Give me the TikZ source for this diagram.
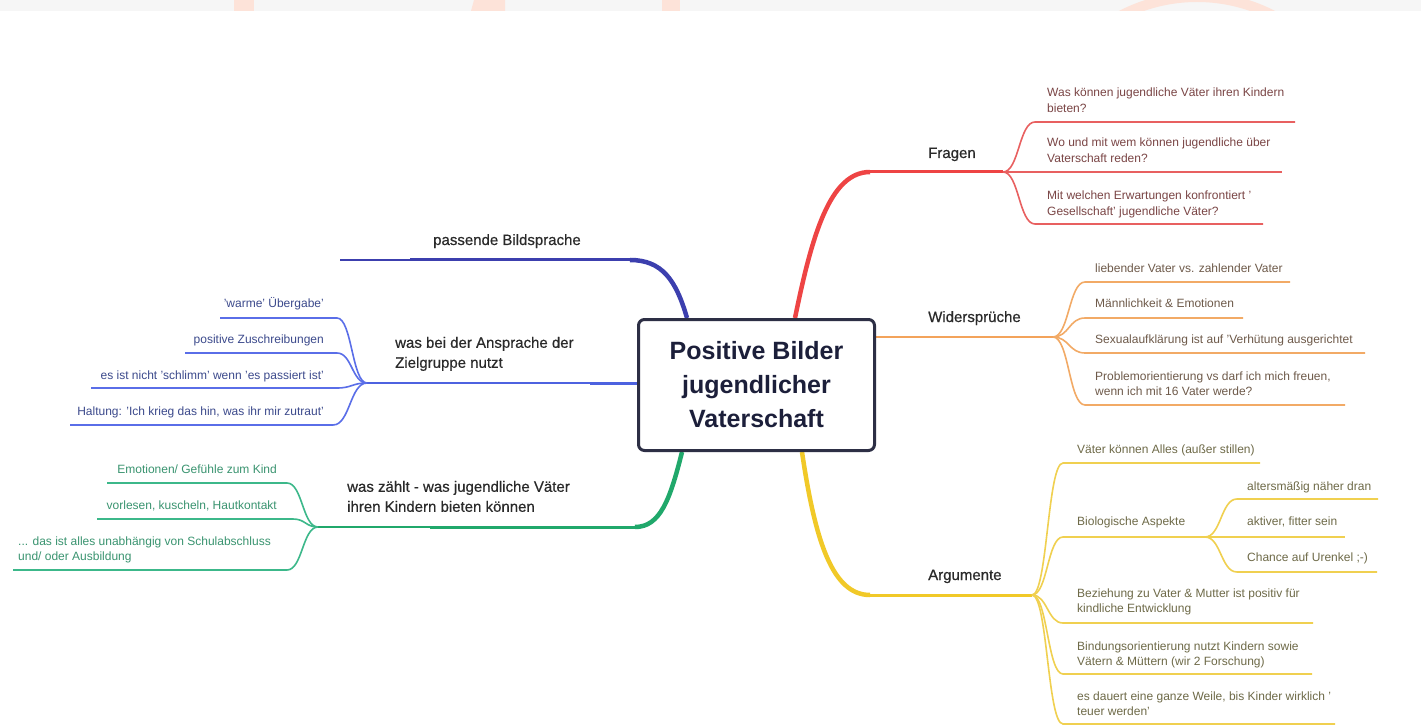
\documentclass[tikz,border=0pt]{standalone}
\usepackage{fontspec}
\setmainfont{Liberation Sans}
\newfontfamily\medfam[FakeBold=0.5]{Liberation Sans}
\usetikzlibrary{calc,backgrounds}
\definecolor{bandc}{HTML}{F6F6F6}
\definecolor{peach}{HTML}{FDE3D9}
\definecolor{boxc}{HTML}{2D2F45}
\definecolor{ctext}{HTML}{1C1F3A}
\definecolor{labc}{HTML}{2A2A2A}
\definecolor{cpass}{HTML}{3C3FAE}
\definecolor{cnutz}{HTML}{4D62E0}
\definecolor{cnutzl}{HTML}{5A6EE8}
\definecolor{tnutz}{HTML}{3C4A8C}
\definecolor{cred}{HTML}{EE4444}
\definecolor{credl}{HTML}{E86060}
\definecolor{tred}{HTML}{7A4545}
\definecolor{corg}{HTML}{F3A35B}
\definecolor{corgl}{HTML}{F2AA66}
\definecolor{torg}{HTML}{6E5A4A}
\definecolor{cyel}{HTML}{F1C928}
\definecolor{cyell}{HTML}{F0D050}
\definecolor{tyel}{HTML}{6E6A48}
\definecolor{cgrn}{HTML}{20A86B}
\definecolor{cgrnl}{HTML}{3CB88A}
\definecolor{tgrn}{HTML}{3A9470}
\newcommand\leaffont{\fontsize{12}{15.5}\selectfont}
\newcommand\labfont{\medfam\fontsize{15}{20}\selectfont}
\newcommand\leafbranch[4]{\draw[#1] (#2) .. controls ($(#2)!0.5!(#3|-#2)$) and ($(#3)!0.5!(#2|-#3)$) .. (#3) -- (#4);}
\tikzset{
  box/.style={draw=boxc, line width=3pt, rounded corners=6pt, fill=white,
    minimum width=236pt, minimum height=131pt, align=center, inner sep=0pt,
    font=\fontsize{25}{34}\selectfont\bfseries, text=ctext},
  lab/.style={font=\labfont, text=labc, inner sep=0pt},
  lab2/.style={lab, align=left, anchor=south west, execute at end node=\strut},
  leaftxt/.style={font=\leaffont, inner sep=0pt, execute at end node=\strut},
  leafL/.style={leaftxt, align=left, anchor=south west},
  leafRa/.style={leaftxt, align=right, anchor=south east},
  lred/.style={draw=credl, line width=1.6pt},
  lorg/.style={draw=corgl, line width=1.6pt},
  lyel/.style={draw=cyell, line width=1.6pt},
  lgrn/.style={draw=cgrnl, line width=1.6pt},
  lblu/.style={draw=cnutzl, line width=1.6pt},
}
\begin{document}
\begin{tikzpicture}[x=1pt,y=-1pt]
\useasboundingbox (0,0) rectangle (1421,727);
\node[box] (C) at (756.5,385) {Positive Bilder\\jugendlicher\\Vaterschaft};
\begin{scope}[on background layer]
\fill[white] (0,0) rectangle (1421,727);
% ---------- coordinates
\coordinate (rB) at ($(C.north west)+(158,0)$);
\coordinate (pB) at ($(C.north west)+(50,0)$);
\coordinate (gB) at ($(C.south west)+(45,0)$);
\coordinate (yB) at ($(C.south west)+(165,0)$);
\coordinate (FJ) at (1003,172);
\coordinate (WJ) at (1053,337);
\coordinate (AJ) at (1032,595);
\coordinate (BJ) at (1205,537);
\coordinate (NJ) at (367,383);
\coordinate (ZJ) at (318,527);
\coordinate (wB) at (C.east |- WJ);
\coordinate (nB) at (C.west |- NJ);
% ---------- main branches
\draw[cred, line width=4.5pt] (rB) .. controls (812,235) and (830,172) .. (870,172) coordinate (rH);
\draw[cred, line width=3pt] (rH) -- (FJ);
\draw[cpass, line width=4.5pt] (pB) .. controls (676,280) and (662,260) .. (630,260) coordinate (pH);
\draw[cpass, line width=3pt] (pH) -- (410,260) coordinate (pM);
\draw[cpass, line width=1.8pt] (pM) -- (340,260) coordinate (pE);
\draw[cgrn, line width=4.5pt] (gB) .. controls (670,500) and (660,527) .. (635,527) coordinate (gH);
\draw[cgrn, line width=3pt] (gH) -- (430,527) coordinate (gM);
\draw[cgrn, line width=2.2pt] (gM) -- (ZJ);
\draw[cyel, line width=4.5pt] (yB) .. controls (815,540) and (832,595) .. (870,595) coordinate (yH);
\draw[cyel, line width=3pt] (yH) -- (AJ);
\draw[corg, line width=2.6pt] (wB) -- (WJ);
\draw[cnutz, line width=3pt] (nB) -- (590,383) coordinate (nM);
\draw[cnutz, line width=2pt] (nM) -- (NJ);
% ---------- red leaves
\coordinate (F1s) at (1035,122); \coordinate (F1e) at (1295,122);
\coordinate (F2e) at (1282,172);
\coordinate (F3s) at (1035,224); \coordinate (F3e) at (1263,224);
\leafbranch{lred}{FJ}{F1s}{F1e}
\draw[lred] (FJ) -- (F2e);
\leafbranch{lred}{FJ}{F3s}{F3e}
% ---------- orange leaves
\coordinate (W1s) at (1085,282); \coordinate (W1e) at (1290,282);
\coordinate (W2s) at (1085,318); \coordinate (W2e) at (1243,318);
\coordinate (W3s) at (1085,353); \coordinate (W3e) at (1365,353);
\coordinate (W4s) at (1085,405); \coordinate (W4e) at (1345,405);
\leafbranch{lorg}{WJ}{W1s}{W1e}
\leafbranch{lorg}{WJ}{W2s}{W2e}
\leafbranch{lorg}{WJ}{W3s}{W3e}
\leafbranch{lorg}{WJ}{W4s}{W4e}
% ---------- yellow leaves
\coordinate (A1s) at (1063,463); \coordinate (A1e) at (1260,463);
\coordinate (A2s) at (1063,537);
\coordinate (A3s) at (1063,623); \coordinate (A3e) at (1313,623);
\coordinate (A4s) at (1063,674); \coordinate (A4e) at (1312,674);
\coordinate (A5s) at (1063,724); \coordinate (A5e) at (1335,724);
\coordinate (B1s) at (1237,499); \coordinate (B1e) at (1378,499);
\coordinate (B2e) at (1345,537);
\coordinate (B3s) at (1237,572); \coordinate (B3e) at (1377,572);
\leafbranch{lyel}{AJ}{A1s}{A1e}
\leafbranch{lyel}{AJ}{A2s}{BJ}
\leafbranch{lyel}{AJ}{A3s}{A3e}
\leafbranch{lyel}{AJ}{A4s}{A4e}
\leafbranch{lyel}{AJ}{A5s}{A5e}
\leafbranch{lyel}{BJ}{B1s}{B1e}
\draw[lyel] (BJ) -- (B2e);
\leafbranch{lyel}{BJ}{B3s}{B3e}
% ---------- blue leaves
\coordinate (N1s) at (337,318); \coordinate (N1e) at (220,318);
\coordinate (N2s) at (337,353); \coordinate (N2e) at (185,353);
\coordinate (N3s) at (337,388); \coordinate (N3e) at (91,388);
\coordinate (N4s) at (333,425); \coordinate (N4e) at (70,425);
\leafbranch{lblu}{NJ}{N1s}{N1e}
\leafbranch{lblu}{NJ}{N2s}{N2e}
\leafbranch{lblu}{NJ}{N3s}{N3e}
\leafbranch{lblu}{NJ}{N4s}{N4e}
% ---------- green leaves
\coordinate (Z1s) at (287,483); \coordinate (Z1e) at (107,483);
\coordinate (Z2s) at (293,519); \coordinate (Z2e) at (97,519);
\coordinate (Z3s) at (287,570); \coordinate (Z3e) at (13,570);
\leafbranch{lgrn}{ZJ}{Z1s}{Z1e}
\leafbranch{lgrn}{ZJ}{Z2s}{Z2e}
\leafbranch{lgrn}{ZJ}{Z3s}{Z3e}
\end{scope}
% ---------- top band
\begin{scope}
\clip (0,0) rectangle (1421,11);
\fill[bandc] (0,0) rectangle (1421,11);
\fill[peach] (234,0) rectangle (254,11);
\fill[peach] (474,0) -- (505,0) -- (505,11) -- (471,11) -- cycle;
\fill[peach] (662,0) rectangle (680,11);
\fill[peach, even odd rule] (1197,162) circle (170pt) (1197,162) circle (160pt);
\end{scope}
% ---------- labels
\node[lab, anchor=base west] (lF) at (928,158) {Fragen};
\node[lab, anchor=base west] (lW) at (928,322) {Widersprüche};
\node[lab, anchor=base west] (lA) at (928,580) {Argumente};
\node[lab, anchor=base] (lP) at (507,245) {passende Bildsprache};
\node[lab2] (lN) at (395,374) {was bei der Ansprache der\\Zielgruppe nutzt};
\node[lab2] (lZ) at (347,518) {was zählt - was jugendliche Väter\\ihren Kindern bieten können};
% ---------- red texts
\node[leafL, text=tred] (tF1) at (1047,117) {Was können jugendliche Väter ihren Kindern\\bieten?};
\node[leafL, text=tred] (tF2) at (1047,167) {Wo und mit wem können jugendliche über\\Vaterschaft reden?};
\node[leafL, text=tred] (tF3) at (1047,220) {Mit welchen Erwartungen konfrontiert '\\Gesellschaft' jugendliche Väter?};
% ---------- orange texts
\node[leafL, text=torg] (tW1) at (1095,277) {liebender Vater vs. zahlender Vater};
\node[leafL, text=torg] (tW2) at (1095,312) {Männlichkeit \& Emotionen};
\node[leafL, text=torg] (tW3) at (1095,348.5) {Sexualaufklärung ist auf 'Verhütung ausgerichtet};
\node[leafL, text=torg] (tW4) at (1095,400.5) {Problemorientierung vs darf ich mich freuen,\\wenn ich mit 16 Vater werde?};
% ---------- yellow texts
\node[leafL, text=tyel] (tA1) at (1077,458.5) {Väter können Alles (außer stillen)};
\node[leafL, text=tyel] (tA2) at (1077,530.5) {Biologische Aspekte};
\node[leafL, text=tyel] (tB1) at (1247,495.5) {altersmäßig näher dran};
\node[leafL, text=tyel] (tB2) at (1247,530.5) {aktiver, fitter sein};
\node[leafL, text=tyel] (tB3) at (1247,566.5) {Chance auf Urenkel ;-)};
\node[leafL, text=tyel] (tA3) at (1077,617.5) {Beziehung zu Vater \& Mutter ist positiv für\\kindliche Entwicklung};
\node[leafL, text=tyel] (tA4) at (1077,670.5) {Bindungsorientierung nutzt Kindern sowie\\Vätern \& Müttern (wir 2 Forschung)};
\node[leafL, text=tyel] (tA5) at (1077,720.5) {es dauert eine ganze Weile, bis Kinder wirklich '\\teuer werden'};
% ---------- blue texts
\node[leafRa, text=tnutz] (tN1) at (324,312.5) {'warme' Übergabe'};
\node[leafRa, text=tnutz] (tN2) at (324,348.5) {positive Zuschreibungen};
\node[leafRa, text=tnutz] (tN3) at (324,384.5) {es ist nicht 'schlimm' wenn 'es passiert ist'};
\node[leafRa, text=tnutz] (tN4) at (324,420.5) {Haltung: 'Ich krieg das hin, was ihr mir zutraut'};
% ---------- green texts
\node[leafRa, text=tgrn] (tZ1) at (277,478.5) {Emotionen/ Gefühle zum Kind};
\node[leafRa, text=tgrn] (tZ2) at (277,514.5) {vorlesen, kuscheln, Hautkontakt};
\node[leafL, text=tgrn] (tZ3) at (18,565.5) {... das ist alles unabhängig von Schulabschluss\\und/ oder Ausbildung};
\end{tikzpicture}
\end{document}
